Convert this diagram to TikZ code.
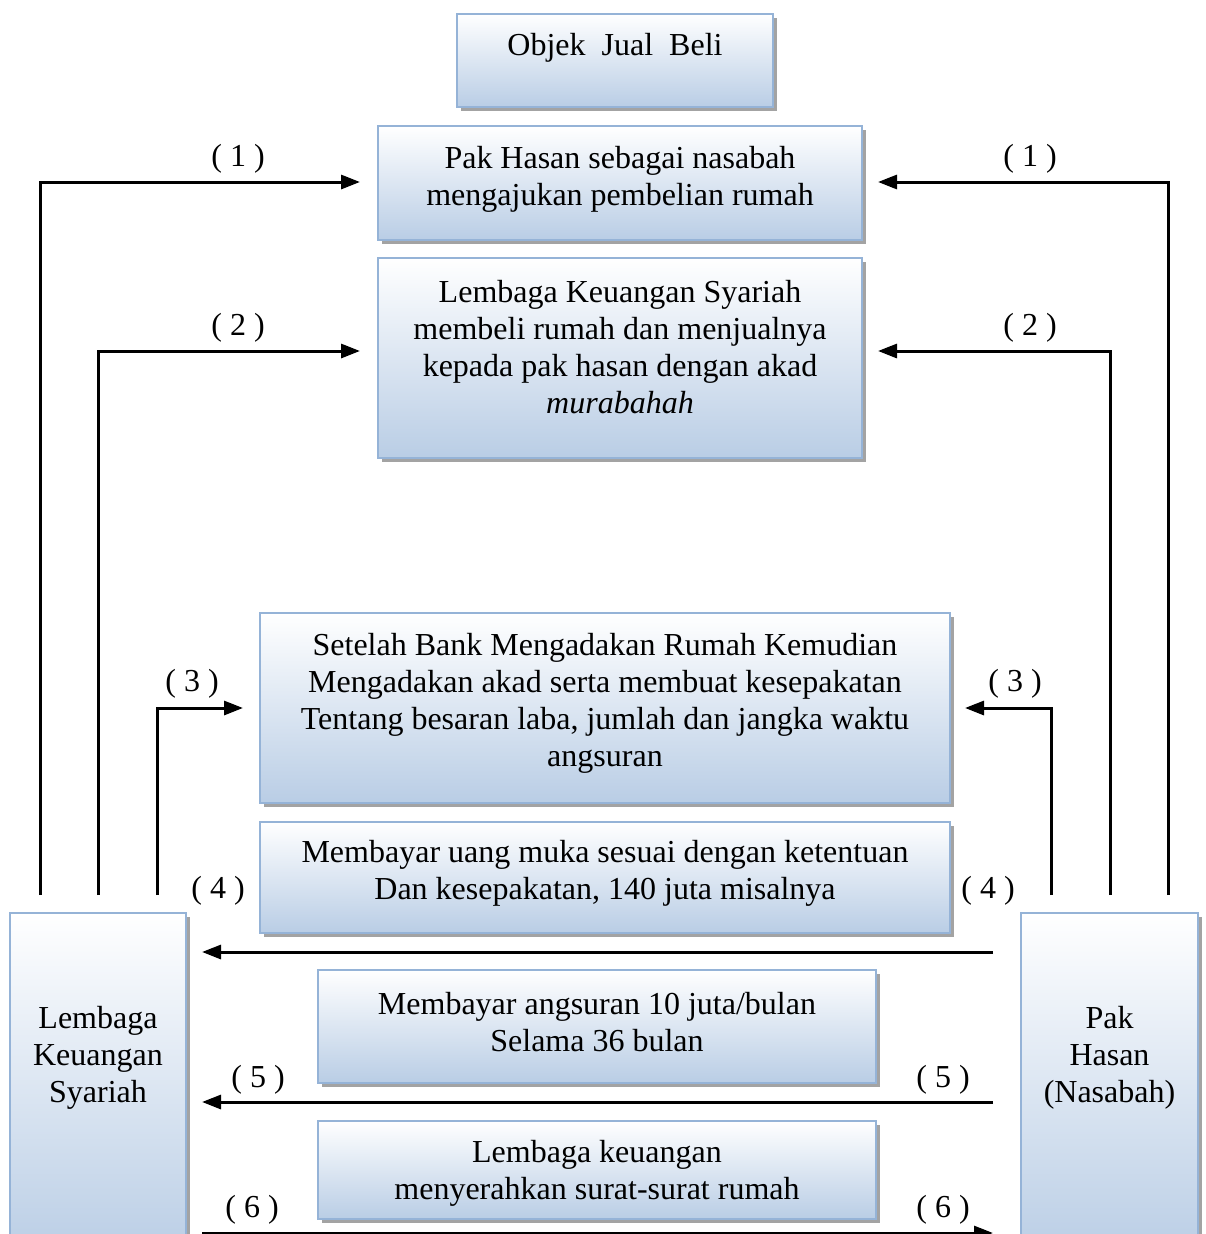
\documentclass[tikz,border=0pt]{standalone}
\usepackage{fontspec}
\setmainfont{Liberation Serif}
\usetikzlibrary{arrows.meta,shadows}
\definecolor{boxline}{HTML}{95B3D7}
\definecolor{boxbot}{HTML}{B9CDE5}
\tikzset{
  box/.style={draw=boxline, line width=2pt, top color=white, bottom color=boxbot,
    drop shadow={shadow xshift=4pt, shadow yshift=-4pt, fill=black!55, opacity=0.65},
    inner sep=0pt},
  txt/.style={align=center, inner sep=0pt, font=\fontsize{32}{37}\selectfont},
  lbl/.style={inner sep=0pt, font=\fontsize{32}{37}\selectfont},
  conn/.style={line width=3pt, -{Triangle[length=19pt,width=14pt]}},
}
\begin{document}
\begin{tikzpicture}[x=1pt,y=-1pt]
\useasboundingbox (0,0) rectangle (1206,1234);
\fill[white] (0,0) rectangle (1206,1234);
\clip (0,0) rectangle (1206,1234);
% boxes
\node[box, minimum width=316pt, minimum height=93pt] (obj) at (615,60.5) {};
\node[box, minimum width=484pt, minimum height=114pt] (b2) at (620,183) {};
\node[box, minimum width=484pt, minimum height=200pt] (b3) at (620,358) {};
\node[box, minimum width=690pt, minimum height=190pt] (b4) at (605,708) {};
\node[box, minimum width=690pt, minimum height=111pt] (b5) at (605,877.5) {};
\node[box, minimum width=558pt, minimum height=113pt] (b6) at (597,1026.5) {};
\node[box, minimum width=558pt, minimum height=98pt] (b7) at (597,1170) {};
\node[box, minimum width=176pt, minimum height=347pt] (lks) at (98,1086.5) {};
\node[box, minimum width=177pt, minimum height=347pt] (ph) at (1109.5,1086.5) {};
% texts
\node[txt] (objt) at (615,48) {Objek\ \ Jual\ \ Beli};
\node[txt] (b2t) at (620,179) {Pak Hasan sebagai nasabah\\mengajukan pembelian rumah};
\node[txt] (b3t) at (620,347) {Lembaga Keuangan Syariah\\membeli rumah dan menjualnya\\kepada pak hasan dengan akad\\\textit{murabahah}};
\node[txt] (b4t) at (605,703) {Setelah Bank Mengadakan Rumah Kemudian\\Mengadakan akad serta membuat kesepakatan\\Tentang besaran laba, jumlah dan jangka waktu\\angsuran};
\node[txt] (b5t) at (605,873) {Membayar uang muka sesuai dengan ketentuan\\Dan kesepakatan, 140 juta misalnya};
\node[txt] (b6t) at (597,1022) {Membayar angsuran 10 juta/bulan\\Selama 36 bulan};
\node[txt] (b7t) at (597,1173) {Lembaga keuangan\\menyerahkan surat-surat rumah};
\node[txt] (lkst) at (98,1058) {Lembaga\\Keuangan\\Syariah};
\node[txt] (pht) at (1109.5,1058) {Pak\\Hasan\\(Nasabah)};
% connector end points
\coordinate (s1l) at (40,895);
\coordinate (s2l) at (98,895);
\coordinate (s3l) at (157,895);
\coordinate (s1r) at (1168,895);
\coordinate (s2r) at (1110,895);
\coordinate (s3r) at (1051,895);
\coordinate (e1l) at (360,182);
\coordinate (e1r) at (878,182);
\coordinate (e2l) at (360,351);
\coordinate (e2r) at (878,351);
\coordinate (e3l) at (243,708);
\coordinate (e3r) at (965,708);
\coordinate (h4r) at (993,952);
\coordinate (h4l) at (202,952);
\coordinate (h5r) at (993,1102);
\coordinate (h5l) at (202,1102);
\coordinate (h6l) at (202,1233);
\coordinate (h6r) at (993,1233);
% connectors
\draw[conn] (s1l) |- (e1l);
\draw[conn] (s1r) |- (e1r);
\draw[conn] (s2l) |- (e2l);
\draw[conn] (s2r) |- (e2r);
\draw[conn] (s3l) |- (e3l);
\draw[conn] (s3r) |- (e3r);
\draw[conn] (h4r) -- (h4l);
\draw[conn] (h5r) -- (h5l);
\draw[conn] (h6l) -- (h6r);
% labels
\node[lbl] (l1l) at (238,159) {( 1 )};
\node[lbl] (l1r) at (1030,159) {( 1 )};
\node[lbl] (l2l) at (238,328) {( 2 )};
\node[lbl] (l2r) at (1030,328) {( 2 )};
\node[lbl] (l3l) at (192,684) {( 3 )};
\node[lbl] (l3r) at (1015,684) {( 3 )};
\node[lbl] (l4l) at (218,891) {( 4 )};
\node[lbl] (l4r) at (988,891) {( 4 )};
\node[lbl] (l5l) at (258,1080) {( 5 )};
\node[lbl] (l5r) at (943,1080) {( 5 )};
\node[lbl] (l6l) at (252,1210) {( 6 )};
\node[lbl] (l6r) at (943,1210) {( 6 )};
\end{tikzpicture}
\end{document}
